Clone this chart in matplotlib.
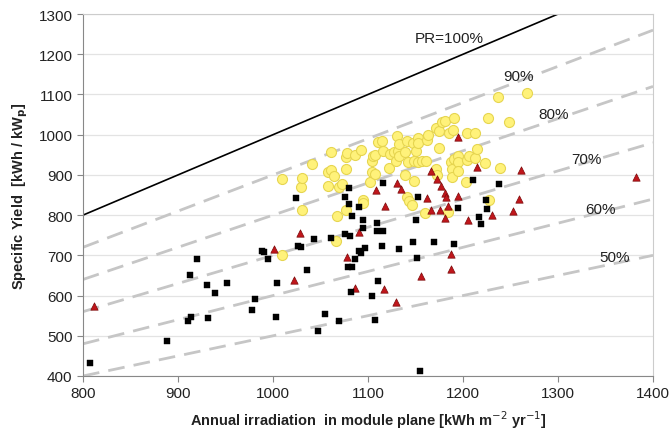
import matplotlib.pyplot as plt
import numpy as np

plt.rcParams['font.family'] = ['Liberation Sans', 'DejaVu Sans']

# performance ratio reference lines
pr_levels = [1.0, 0.9, 0.8, 0.7, 0.6, 0.5]
pr_labels = ['PR=100%', '90%', '80%', '70%', '60%', '50%']
pr_label_x = [1186, 1258, 1295, 1330, 1345, 1360]
pr_label_y = [1240, 1146, 1051, 940, 815, 696]

# black squares
sq_x = [807, 888, 910, 914, 913, 920, 931, 932, 939, 952, 978, 981, 988, 990, 995,
        1003, 1004, 1024, 1026, 1029, 1036, 1043, 1047, 1055, 1061, 1069, 1076, 1081,
        1076, 1080, 1080, 1091, 1083, 1095, 1095, 1109, 1109, 1116, 1091, 1093, 1097,
        1086, 1079, 1083, 1082, 1104, 1107, 1110, 1116, 1151, 1153, 1115, 1133, 1147,
        1152, 1169, 1191, 1155, 1195, 1210, 1217, 1219, 1224, 1225, 1238]
sq_y = [432, 486, 537, 547, 650, 692, 626, 543, 606, 632, 564, 592, 711, 708, 692,
        547, 630, 843, 723, 721, 664, 741, 511, 553, 743, 536, 753, 749,
        846, 867, 828, 819, 798, 788, 769, 780, 760, 761, 712, 705, 718,
        691, 670, 670, 608, 598, 538, 635, 880, 789, 846, 723, 717, 734,
        694, 732, 728, 413, 818, 888, 795, 779, 838, 815, 877]

# red triangles
tri_x = [812, 1001, 1022, 1028, 1078, 1086, 1090, 1108, 1117, 1118, 1129, 1131, 1135,
         1156, 1162, 1166, 1166, 1173, 1176, 1177, 1181, 1182, 1181, 1184, 1187, 1187,
         1195, 1195, 1205, 1215, 1231, 1253, 1259, 1261, 1382]
tri_y = [573, 717, 638, 756, 695, 620, 757, 862, 616, 823, 583, 881, 865,
         648, 843, 910, 812, 890, 812, 872, 855, 844, 794, 822, 703, 666,
         994, 848, 789, 919, 800, 811, 839, 913, 896]

# yellow circles
circ_x = [1009, 1009, 1029, 1031, 1031, 1041, 1058, 1058, 1061, 1061, 1064, 1066, 1067,
          1069, 1073, 1077, 1077, 1077, 1078, 1086, 1093, 1095, 1095, 1102, 1104, 1104,
          1105, 1107, 1107, 1110, 1115, 1116, 1122, 1123, 1127, 1129, 1131, 1132, 1133,
          1133, 1139, 1139, 1141, 1141, 1142, 1143, 1146, 1147, 1148, 1148, 1150, 1153,
          1153, 1153, 1157, 1160, 1161, 1162, 1163, 1172, 1172, 1173, 1175, 1175, 1178,
          1181, 1184, 1185, 1187, 1188, 1188, 1189, 1190, 1191, 1195, 1195, 1195, 1203,
          1204, 1204, 1206, 1213, 1213, 1215, 1223, 1226, 1227, 1237, 1239, 1248, 1267]
circ_y = [700, 891, 870, 892, 812, 928, 872, 908, 911, 956, 898, 736, 798,
          870, 877, 915, 812, 945, 954, 950, 963, 838, 830, 882, 934, 906,
          946, 950, 903, 982, 985, 960, 917, 952, 956, 935, 996, 959, 977,
          948, 956, 900, 985, 844, 931, 836, 825, 979, 935, 886, 960, 991,
          979, 933, 935, 806, 935, 988, 999, 1017, 915, 900, 1008, 966, 1031,
          1035, 808, 1003, 931, 915, 896, 1012, 940, 1041, 948, 931, 910, 882,
          1003, 937, 948, 1003, 941, 964, 929, 1041, 838, 1093, 916, 1032, 1103]

fig = plt.figure(figsize=(6.71, 4.31), dpi=100)
ax = fig.add_axes([0.1237, 0.1253, 0.8495, 0.8398])

xs = np.array([800, 1400])
for i, pr in enumerate(pr_levels):
    if pr == 1.0:
        ax.plot(xs, pr * xs, color='black', linewidth=1.2, zorder=2)
    else:
        ax.plot(xs, pr * xs, color='#c6c6c6', linewidth=2, dashes=(6, 3.3), zorder=2)
    ax.text(pr_label_x[i], pr_label_y[i], pr_labels[i], fontsize=11,
            ha='center', va='center', color='#222222', zorder=3)

ax.scatter(circ_x, circ_y, s=52, marker='o', facecolor='#fff27a', edgecolor='#e6d550',
           linewidth=0.8, zorder=4)
ax.scatter(tri_x, tri_y, s=28, marker='^', facecolor='#c0161b', edgecolor='#7a0a0a',
           linewidth=0.5, zorder=5)
ax.scatter(sq_x, sq_y, s=20, marker='s', facecolor='black', edgecolor='black',
           linewidth=0.3, zorder=6)

ax.set_xlim(800, 1400)
ax.set_ylim(400, 1300)
ax.set_xticks(np.arange(800, 1401, 100))
ax.set_yticks(np.arange(400, 1301, 100))
ax.yaxis.grid(True, color='#e3e3e3', linewidth=0.9)
ax.set_axisbelow(True)
for s in ['left', 'bottom']:
    ax.spines[s].set_color('#888888')
for s in ['top', 'right']:
    ax.spines[s].set_color('#cccccc')
ax.tick_params(axis='both', labelsize=11, colors='#222222', length=4)
ax.tick_params(axis='y', length=4, color='#888888')
ax.tick_params(axis='x', color='#888888')

ax.set_xlabel('Annual irradiation  in module plane [kWh m$^{-2}$ yr$^{-1}$]',
              fontsize=10.5, fontweight='bold', color='#222222', labelpad=6)
ax.set_ylabel('Specific Yield  [kWh / kW$_\\mathbf{p}$]', fontsize=10.5,
              fontweight='bold', color='#222222', labelpad=6)

fig.savefig('out.png', dpi=100)
